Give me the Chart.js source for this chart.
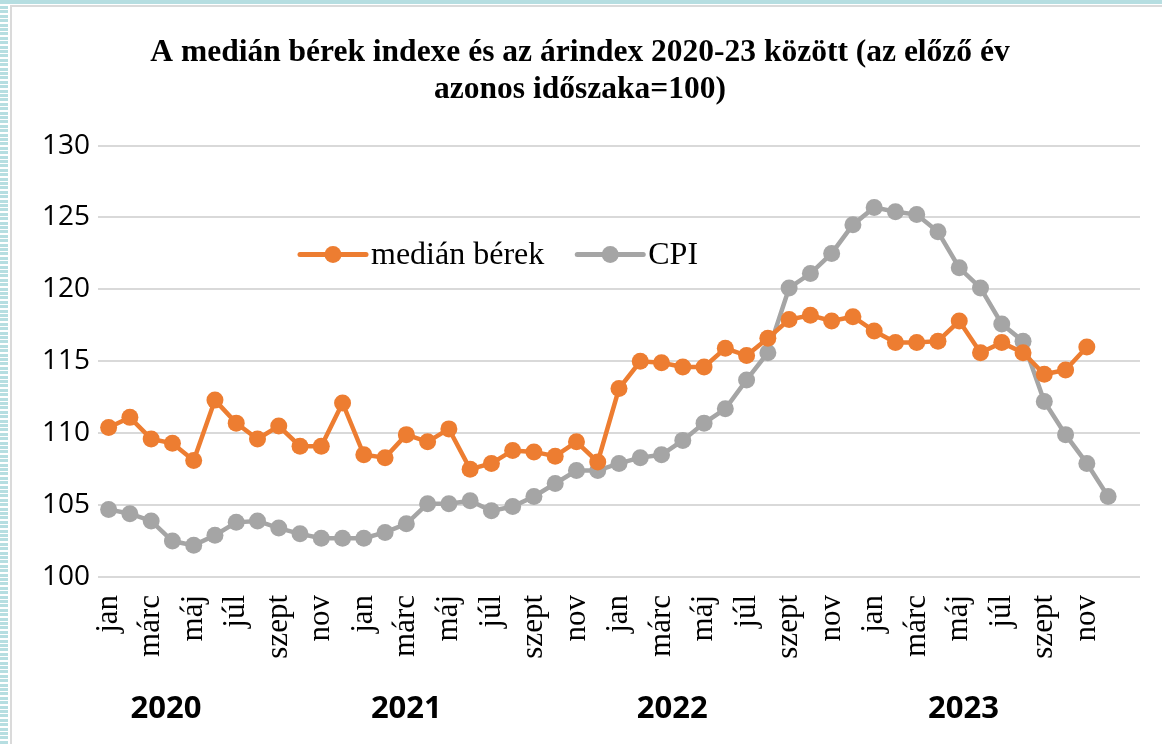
<!DOCTYPE html>
<html lang="hu">
<head>
<meta charset="utf-8">
<title>Medián bérek és CPI</title>
<script src="https://cdn.jsdelivr.net/npm/chart.js@4.4.1/dist/chart.umd.min.js"></script>
<style>
  html, body { margin: 0; padding: 0; background: #fff; }
  body { width: 1162px; height: 744px; position: relative; overflow: hidden; }
  .top-strip { position: absolute; left: 0; top: 0; width: 1162px; height: 4px; background: #b6dee1; }
  .left-strip {
    position: absolute; left: 0; top: 6px; width: 8px; height: 738px;
    background: repeating-linear-gradient(to bottom, #b6dee1 0, #b6dee1 3px, #fff 3px, #fff 4.4px);
  }
  .frame {
    position: absolute; left: 10px; top: 5px; width: 1160px; height: 750px;
    border-left: 2px solid #dadada; border-top: 2px solid #dadada; background: #fff;
  }
  #chart { position: absolute; left: 0; top: 0; }
</style>
</head>
<body>
<div class="top-strip"></div>
<div class="left-strip"></div>
<div class="frame"></div>
<canvas id="chart" width="1162" height="744"></canvas>
<script>
// ---- data ----
const years = ['2020', '2021', '2022', '2023'];
const monthNames = ['jan', 'febr', 'márc', 'ápr', 'máj', 'jún', 'júl', 'aug', 'szept', 'okt', 'nov', 'dec'];

// medián bérek, előző év azonos időszaka = 100 (2020 jan - 2023 nov)
const medianWages = [
  110.4, 111.1, 109.6, 109.3, 108.1, 112.3, 110.7, 109.6, 110.5, 109.1, 109.1, 112.1,
  108.5, 108.3, 109.9, 109.4, 110.3, 107.5, 107.9, 108.8, 108.7, 108.4, 109.4, 108.0,
  113.1, 115.0, 114.9, 114.6, 114.6, 115.9, 115.4, 116.6, 117.9, 118.2, 117.8, 118.1,
  117.1, 116.3, 116.3, 116.4, 117.8, 115.6, 116.3, 115.6, 114.1, 114.4, 116.0, null
];

// CPI (2020 jan - 2023 dec)
const cpi = [
  104.7, 104.4, 103.9, 102.5, 102.2, 102.9, 103.8, 103.9, 103.4, 103.0, 102.7, 102.7,
  102.7, 103.1, 103.7, 105.1, 105.1, 105.3, 104.6, 104.9, 105.6, 106.5, 107.4, 107.4,
  107.9, 108.3, 108.5, 109.5, 110.7, 111.7, 113.7, 115.6, 120.1, 121.1, 122.5, 124.5,
  125.7, 125.4, 125.2, 124.0, 121.5, 120.1, 117.6, 116.4, 112.2, 109.9, 107.9, 105.6
];

const yTicks = [100, 105, 110, 115, 120, 125, 130];

// one month per category, plus an empty slot on the right like the original axis
const labels = [];
years.forEach(() => monthNames.forEach(m => labels.push(m)));
labels.push('');

const ORANGE = '#ed7d31';
const GRAY = '#a5a5a5';

// legend drawn inside the plot area
const innerLegend = {
  id: 'innerLegend',
  afterDraw(chart) {
    const { ctx, chartArea } = chart;
    const y = chartArea.top + 109;
    let x = chartArea.left + 202;
    ctx.save();
    ctx.font = '32px "Liberation Serif", serif';
    ctx.textBaseline = 'middle';
    chart.data.datasets.forEach(ds => {
      ctx.strokeStyle = ds.borderColor;
      ctx.fillStyle = ds.borderColor;
      ctx.lineWidth = 5;
      ctx.lineCap = 'round';
      ctx.beginPath();
      ctx.moveTo(x, y);
      ctx.lineTo(x + 66, y);
      ctx.stroke();
      ctx.beginPath();
      ctx.arc(x + 33, y, 8.5, 0, Math.PI * 2);
      ctx.fill();
      ctx.fillStyle = '#000';
      ctx.fillText(ds.label, x + 71, y + 1);
      x += 71 + ctx.measureText(ds.label).width + 33;
    });
    ctx.restore();
  }
};

// year labels under the month ticks
const yearLabels = {
  id: 'yearLabels',
  afterDraw(chart, args, opts) {
    const { ctx, chartArea, scales } = chart;
    ctx.save();
    ctx.font = 'bold 31px "Open Sans", sans-serif';
    ctx.textAlign = 'center';
    ctx.textBaseline = 'middle';
    ctx.fillStyle = '#000';
    years.forEach((yr, i) => {
      const px = scales.x.getPixelForValue(opts.at[i]);
      ctx.fillText(yr, px, chartArea.bottom + 132);
    });
    ctx.restore();
  }
};

new Chart(document.getElementById('chart'), {
  type: 'line',
  data: {
    labels,
    datasets: [
      {
        label: 'medián bérek',
        data: medianWages,
        borderColor: ORANGE,
        backgroundColor: ORANGE,
        borderWidth: 4.5,
        pointRadius: 8.5,
        pointBorderWidth: 0,
        pointBackgroundColor: ORANGE,
        tension: 0,
      },
      {
        label: 'CPI',
        data: cpi,
        borderColor: GRAY,
        backgroundColor: GRAY,
        borderWidth: 4.5,
        pointRadius: 8.5,
        pointBorderWidth: 0,
        pointBackgroundColor: GRAY,
        tension: 0,
      },
    ],
  },
  options: {
    responsive: false,
    animation: false,
    layout: { padding: { left: 20, right: 22, top: 0, bottom: 0 } },
    scales: {
      x: {
        offset: true,
        grid: { display: false },
        border: { display: false },
        afterFit: s => {
          s.height = 167;
          s.paddingLeft = 0;
          s.paddingRight = 0;
        },
        ticks: {
          autoSkip: false,
          minRotation: 90,
          maxRotation: 90,
          padding: 10,
          color: '#000',
          font: { family: '"Liberation Serif", serif', size: 31 },
          callback: function (v, i) { return i % 2 === 0 ? this.getLabelForValue(v) : ''; },
        },
      },
      y: {
        min: yTicks[0],
        max: yTicks[yTicks.length - 1],
        afterFit: s => { s.width = 78; },
        afterBuildTicks: s => { s.ticks = yTicks.map(v => ({ value: v })); },
        grid: { color: '#d9d9d9', lineWidth: 2, drawTicks: false },
        border: { display: false },
        ticks: {
          padding: 8,
          color: '#000',
          font: { family: '"Open Sans", sans-serif', size: 28 },
        },
      },
    },
    plugins: {
      legend: { display: false },
      tooltip: { enabled: false },
      title: {
        display: true,
        text: ['A medián bérek indexe és az árindex 2020-23 között (az előző év', 'azonos időszaka=100)'],
        color: '#000',
        font: { family: '"Liberation Serif", serif', size: 31.5, weight: 'bold', lineHeight: 1.16 },
        padding: { top: 35, bottom: 37.5 },
      },
      yearLabels: { at: [2.7, 14.0, 26.5, 40.2] },
    },
  },
  plugins: [innerLegend, yearLabels],
});
</script>
</body>
</html>
